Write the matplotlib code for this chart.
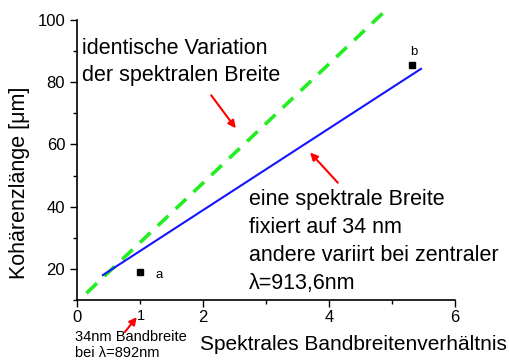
import matplotlib
matplotlib.use("Agg")
import matplotlib.pyplot as plt

plt.rcParams['font.family'] = ['Liberation Sans', 'DejaVu Sans']

# Data
green_x = [0.15, 4.89]
green_y = [12.2, 102.9]
blue_x = [0.41, 5.46]
blue_y = [18.0, 84.3]
pts_x = [1.0, 5.31]
pts_y = [19.0, 85.6]
pts_labels = ['a', 'b']
xticks = [0, 2, 4, 6]
yticks = [20, 40, 60, 80, 100]

W, H = 510, 361
fig = plt.figure(figsize=(W / 100, H / 100), dpi=100)
ax = fig.add_axes([77 / W, 1 - 300 / H, (455 - 77) / W, (300 - 20) / H])

def fx(px):
    return px / W

def fy(py):
    return 1 - py / H

ax.plot(green_x, green_y, color='#22ee22', lw=2.6, ls=(0, (4, 2.8)), clip_on=False)
ax.plot(blue_x, blue_y, color='#1414ff', lw=1.5)
ax.plot(pts_x, pts_y, 's', color='black', ms=5)
ax.text(pts_x[0] + 0.24, pts_y[0] - 1.0, pts_labels[0], fontsize=9.5, va='center', ha='left')
ax.text(pts_x[1] + 0.03, pts_y[1] + 4.2, pts_labels[1], fontsize=9.5, va='center', ha='center')

ax.set_xlim(0, 6)
ax.set_ylim(10, 100)
ax.set_xticks(xticks)
ax.set_yticks(yticks)
ax.set_xticks([1, 3, 5], minor=True)
ax.set_yticks([10, 30, 50, 70, 90], minor=True)
ax.tick_params(which='major', direction='out', length=5, width=1, labelsize=12)
ax.tick_params(which='minor', direction='out', length=3, width=1)
ax.tick_params(axis='x', which='major', pad=2)
for s in ['top', 'right']:
    ax.spines[s].set_visible(False)
for s in ['left', 'bottom']:
    ax.spines[s].set_linewidth(1.2)

fig.text(fx(20), fy(183), 'Kohärenzlänge [μm]', fontsize=15.5, rotation=90, ha='center', va='center')

fig.text(fx(353), fy(345), 'Spektrales Bandbreitenverhältnis', fontsize=15, ha='center', va='center')

fig.text(fx(82), fy(48), 'identische Variation', fontsize=15.5, ha='left', va='center')
fig.text(fx(82), fy(76), 'der spektralen Breite', fontsize=15.5, ha='left', va='center')

lines = ['eine spektrale Breite', 'fixiert auf 34 nm', 'andere variirt bei zentraler', 'λ=913,6nm']
for i, t in enumerate(lines):
    fig.text(fx(249), fy(200 + 27.8 * i), t, fontsize=15.5, ha='left', va='center')

fig.text(fx(75), fy(337), '34nm Bandbreite', fontsize=10.5, ha='left', va='center')
fig.text(fx(75), fy(353), 'bei λ=892nm', fontsize=10.5, ha='left', va='center')
fig.text(fx(141), fy(316), '1', fontsize=10.5, ha='center', va='center')

arrowprops = dict(arrowstyle='-|>', color='red', lw=1.5, mutation_scale=11, shrinkA=0, shrinkB=0)
ax.annotate('', xy=(2.52, 65.2), xytext=(2.13, 75.8), arrowprops=arrowprops, annotation_clip=False)
ax.annotate('', xy=(3.70, 57.4), xytext=(4.14, 47.7), arrowprops=arrowprops, annotation_clip=False)
ax.annotate('', xy=(0.95, 4.5), xytext=(0.76, -0.3), arrowprops=arrowprops, annotation_clip=False)

fig.savefig('out.png', dpi=100)
